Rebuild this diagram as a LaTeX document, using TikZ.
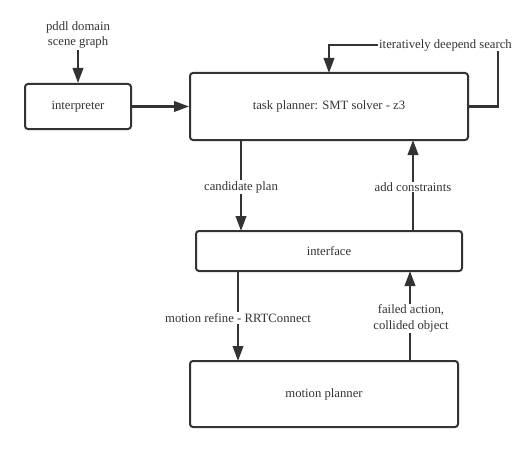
\documentclass[tikz,border=0pt]{standalone}
\usepackage{fontspec}
\setmainfont{Liberation Serif}
\usetikzlibrary{arrows.meta}
\definecolor{ink}{HTML}{333333}
\tikzset{
  box/.style={draw=ink, line width=2pt, rounded corners=3pt, inner sep=0pt},
  conn/.style={draw=ink, line width=2.2pt},
  arr/.style={conn, -{Triangle[length=15pt,width=10.5pt]}},
  lbl/.style={fill=white, text=ink, inner sep=1pt, align=center, font=\fontsize{12.7}{15.5}\selectfont},
  txt/.style={text=ink, font=\fontsize{12.7}{15.5}\selectfont}
}
\begin{document}
\begin{tikzpicture}[x=1pt,y=-1pt]
\useasboundingbox (0,0) rectangle (528,452);
% boxes
\node[box, minimum width=106pt, minimum height=45pt, txt] (interp) at (78,106.5) {interpreter};
\node[box, minimum width=278pt, minimum height=67pt, txt] (task) at (329,106.5) {task planner: SMT solver - z3};
\node[box, minimum width=266pt, minimum height=40pt, txt] (iface) at (329,251) {interface};
\node[box, minimum width=268pt, minimum height=66pt, txt] (motion) at (324,394) {motion planner};
% input text
\node[txt, align=center, inner sep=1pt] (input) at (78,35) {pddl domain\\scene graph};
\draw[arr] (input.south) -- (interp.north);
\draw[arr] (interp.east) -- (task.west);
% iterative loop
\node[txt, inner sep=1pt, anchor=west] (iter) at (378,45) {iteratively deepend search};
\coordinate (c1) at (498,51);
\coordinate (t1) at (329,73);
\draw[conn] (task.east) -| (c1);
\draw[arr] (iter.west) -| (t1);
% task <-> interface
\coordinate (tA) at (241,140);
\coordinate (iA) at (241,231);
\coordinate (tB) at (413,140);
\coordinate (iB) at (413,231);
\draw[arr] (tA) -- (iA);
\node[lbl] (cand) at (241,187) {candidate plan};
\draw[arr] (iB) -- (tB);
\node[lbl] (addc) at (413,187) {add constraints};
% interface <-> motion
\coordinate (iC) at (238,271);
\coordinate (mC) at (238,361);
\coordinate (iD) at (410,271);
\coordinate (mD) at (410,361);
\draw[arr] (iC) -- (mC);
\node[lbl] (mref) at (238,318) {motion refine - RRTConnect};
\draw[arr] (mD) -- (iD);
\node[lbl] (fail) at (411,318.5) {failed action,\\collided object};
\end{tikzpicture}
\end{document}
